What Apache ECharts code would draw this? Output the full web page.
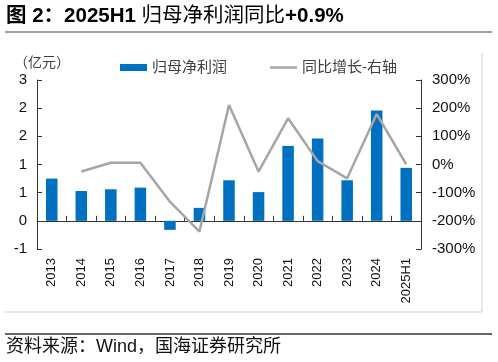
<!DOCTYPE html>
<html><head><meta charset="utf-8">
<script src="https://cdn.jsdelivr.net/npm/echarts@6/dist/echarts.min.js"></script>
<style>html,body{margin:0;padding:0;background:#fff}#c{width:498px;height:362px}</style>
</head><body><div id="c"></div>
<script>
const categories = ['2013','2014','2015','2016','2017','2018','2019','2020','2021','2022','2023','2024','2025H1'];
const profit = [0.75,0.53,0.56,0.59,-0.16,0.23,0.72,0.51,1.33,1.46,0.72,1.96,0.94];
const yoy = [null,-25,6,6,-132,-238,211,-25,164,12,-49,179,0.9];
const leftTickLabels = ['-1','0','1','1','2','2','3'];
const rightTickLabels = ['-300%','-200%','-100%','0%','100%','200%','300%'];

const FF = '"Liberation Sans", Arial, "Noto Sans CJK SC", sans-serif';
const chart = echarts.init(document.getElementById('c'));
const axisCommon = {
  axisLine:{show:true,lineStyle:{color:'#333',width:1}},
  axisTick:{show:true,inside:true,length:5,lineStyle:{color:'#333'}},
  splitLine:{show:false}
};
const legendText = {fontSize:15,color:'#404040',fontFamily:FF};
chart.setOption({
  animation:false,
  textStyle:{fontFamily:FF},
  grid:{left:37,right:77,top:80,bottom:113,containLabel:false},
  legend:[
    {left:120, top:60, padding:0, itemWidth:27, itemHeight:7, textStyle:legendText,
     data:[{name:'归母净利润',icon:'rect'}]},
    {left:270, top:60, padding:0, itemWidth:27, itemHeight:2.5, textStyle:legendText,
     data:[{name:'同比增长-右轴',icon:'rect'}]}
  ],
  xAxis:{
    type:'category', data:categories, boundaryGap:true,
    axisLine:{show:true,lineStyle:{color:'#333',width:1}},
    axisTick:{show:true,inside:true,length:5,interval:0,lineStyle:{color:'#333'}},
    axisLabel:{rotate:90,fontSize:13,color:'#111',margin:9,interval:0,fontFamily:FF}
  },
  yAxis:[
    Object.assign({type:'value',min:-0.5,max:2.5,interval:0.5,position:'left',
      axisLabel:{fontSize:15,color:'#111',margin:10,fontFamily:FF,formatter:(v,i)=>leftTickLabels[i]}},axisCommon),
    Object.assign({type:'value',min:-300,max:300,interval:100,position:'right',
      axisLabel:{fontSize:15,color:'#111',margin:11,fontFamily:FF,formatter:(v,i)=>rightTickLabels[i]}},axisCommon)
  ],
  series:[
    {name:'归母净利润',type:'bar',data:profit,barWidth:'39%',itemStyle:{color:'#0070C0'},yAxisIndex:0},
    {name:'同比增长-右轴',type:'line',data:yoy,yAxisIndex:1,symbol:'none',showSymbol:false,
      lineStyle:{color:'#A6A6A6',width:2.5},itemStyle:{color:'#A6A6A6'}}
  ],
  graphic:[
    {type:'text',left:6,top:6,style:{
      text:'{b|图 2：2025H1 }{n|归母净利润同比}{b|+0.9%}',
      rich:{
        b:{fontSize:20.5,fontWeight:'bold',fill:'#000',fontFamily:FF},
        n:{fontSize:20.5,fontWeight:'normal',fill:'#000',fontFamily:FF}
      }}},
    {type:'line',shape:{x1:5,y1:32,x2:492,y2:32},style:{stroke:'#808080',lineWidth:1.5}},
    {type:'line',shape:{x1:482,y1:53,x2:482,y2:312},style:{stroke:'#D0D0D0',lineWidth:1}},
    {type:'line',shape:{x1:5,y1:312,x2:482,y2:312},style:{stroke:'#D0D0D0',lineWidth:1}},
    {type:'text',left:14,top:56,style:{text:'（亿元）',fontSize:14,fill:'#404040',fontFamily:FF}},
    {type:'line',shape:{x1:5,y1:334,x2:492,y2:334},style:{stroke:'#333',lineWidth:1.5}},
    {type:'text',left:6,top:338,style:{text:'资料来源：Wind，国海证券研究所',fontSize:18,fill:'#111',fontFamily:FF}}
  ]
});
</script></body></html>
